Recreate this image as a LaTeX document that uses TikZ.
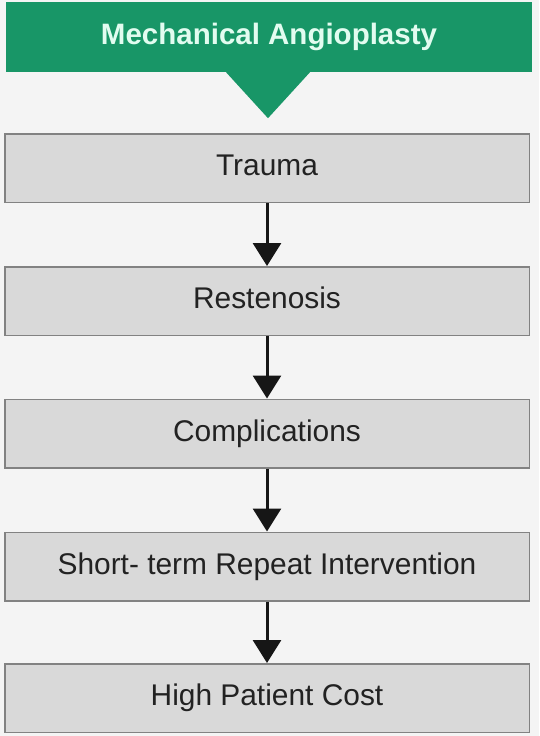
\documentclass[tikz,border=0pt]{standalone}
\usepackage{fontspec}
\setmainfont{Liberation Sans}
\usepackage{tikz}
\usetikzlibrary{arrows.meta,calc}

\definecolor{bggrey}{RGB}{244,244,244}
\definecolor{bannergreen}{RGB}{24,150,103}
\definecolor{bannertext}{RGB}{226,252,240}
\definecolor{boxfill}{RGB}{217,217,217}
\definecolor{boxedge}{RGB}{130,130,130}
\definecolor{boxtext}{RGB}{34,34,34}
\definecolor{arrowc}{RGB}{22,22,22}

\begin{document}
\begin{tikzpicture}
  [
    x=1pt, y=-1pt,
    banner/.style =
      {fill=bannergreen, text=bannertext, inner sep=0pt, minimum width=526pt, minimum height=70pt,
       font=\fontsize{29.5}{34}\selectfont\bfseries, text height=21pt, text depth=6pt},
    stepbox/.style =
      {draw=boxedge, fill=boxfill, line width=1.5pt, text=boxtext, inner sep=0pt,
       minimum width=524.5pt, minimum height=68.5pt,
       font=\fontsize{29.9}{34}\selectfont, text height=21.5pt, text depth=6pt},
    sarrow/.style =
      {-{Triangle[width=28pt, length=23pt]}, line width=3pt, draw=arrowc, fill=arrowc}
  ]

\fill[bggrey] (0,0) rectangle (539,736);

\node[banner] (title) at (269,37) {Mechanical Angioplasty};
\fill[bannergreen] ($(title.south)+(-43,0)$) -- ($(title.south)+(-1,46)$) -- ($(title.south)+(41,0)$) -- cycle;

\node[stepbox] (trauma) at (267,168) {Trauma};
\node[stepbox] (resten) at (267,301) {Restenosis};
\node[stepbox] (compl)  at (267,433.5) {Complications};
\node[stepbox] (repeat) at (267,566.5) {Short- term Repeat Intervention};
\node[stepbox] (cost)   at (267,698) {High Patient Cost};

\draw [sarrow] (trauma.south) -- (resten.north);
\draw [sarrow] (resten.south) -- (compl.north);
\draw [sarrow] (compl.south) -- (repeat.north);
\draw [sarrow] (repeat.south) -- (cost.north);

\end{tikzpicture}
\end{document}
